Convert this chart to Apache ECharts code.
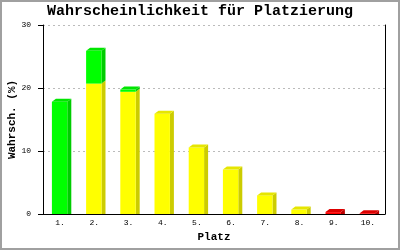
<!DOCTYPE html>
<html><head><meta charset="utf-8">
<script src="https://cdn.jsdelivr.net/npm/echarts@6/dist/echarts.min.js"></script>
<style>html,body{margin:0;padding:0;background:#fff}#c{width:400px;height:250px}</style>
</head><body><div id="c"></div>
<script>
const categories = ['1.', '2.', '3.', '4.', '5.', '6.', '7.', '8.', '9.', '10.'];
const yellowValues = [0, 20.7, 19.4, 15.9, 10.55, 7.05, 2.95, 0.7, 0, 0];
const greenValues = [17.8, 5.2, 0.35, 0, 0, 0, 0, 0, 0, 0];
const redValues = [0, 0, 0, 0, 0, 0, 0, 0, 0.3, 0.12];
const yTicks = [0, 10, 20, 30];

const segColors = [
  {front: '#ffff00', top: '#e6e600', side: '#cccc00'},
  {front: '#00ff00', top: '#00e600', side: '#00cc00'},
  {front: '#ff0000', top: '#dd0000', side: '#bb0000'}
];
const mono = "'Liberation Mono', 'DejaVu Sans Mono', monospace";
const data = categories.map((c, i) => [i, yellowValues[i], greenValues[i], redValues[i]]);

function renderItem(params, api) {
  const idx = api.value(0);
  const segs = [api.value(1), api.value(2), api.value(3)];
  const band = api.size([1, 0])[0];
  const w = band * 0.45;
  const dx = 4, dy = 3;
  const children = [];
  let base = 0;
  let topIdx = -1;
  segs.forEach((v, k) => { if (v > 0) topIdx = k; });
  segs.forEach((v, k) => {
    if (!(v > 0)) return;
    const pB = api.coord([idx, base]);
    const pT = api.coord([idx, base + v]);
    const x0 = pB[0] - w / 2 - 0.5, x1 = x0 + w;
    const yB = pB[1], yT = pT[1];
    const col = segColors[k];
    const isBottom = base === 0;
    children.push({type: 'polygon', shape: {points: [[x1, yT], [x1 + dx, yT - dy], [x1 + dx, isBottom ? yB : yB - dy], [x1, yB]]}, style: {fill: col.side}});
    children.push({type: 'rect', shape: {x: x0, y: yT, width: w, height: yB - yT}, style: {fill: col.front}});
    if (k === topIdx) {
      children.push({type: 'polygon', shape: {points: [[x0, yT], [x1, yT], [x1 + dx, yT - dy], [x0 + dx, yT - dy]]}, style: {fill: col.top}});
    }
    base += v;
  });
  return {type: 'group', children: children};
}

const chart = echarts.init(document.getElementById('c'), null, {renderer: 'canvas'});
chart.setOption({
  animation: false,
  backgroundColor: '#fff',
  title: {
    text: 'Wahrscheinlichkeit für Platzierung',
    left: 'center', top: 4, padding: 0,
    textStyle: {fontFamily: mono, fontWeight: 'bold', fontSize: 15, color: '#000'}
  },
  graphic: [{type: 'rect', shape: {x: 1, y: 1, width: 398, height: 248}, style: {fill: 'none', stroke: '#a0a0a0', lineWidth: 2}, z: 100}],
  grid: {left: 43, right: 15, top: 25, bottom: 36, containLabel: false, outerBoundsMode: 'none'},
  xAxis: {
    type: 'category', data: categories,
    name: 'Platz', nameLocation: 'middle', nameGap: 18, nameMoveOverlap: false,
    nameTextStyle: {fontFamily: mono, fontWeight: 'bold', fontSize: 11, color: '#000'},
    axisLine: {lineStyle: {color: '#000', width: 1}},
    axisTick: {show: false},
    axisLabel: {fontFamily: mono, fontSize: 8, color: '#000', margin: 5},
    splitLine: {show: false}
  },
  yAxis: [{
    type: 'value', min: 0, max: 30, interval: 10,
    name: 'Wahrsch. (%)', nameLocation: 'middle', nameGap: 25, nameMoveOverlap: false,
    nameTextStyle: {fontFamily: mono, fontWeight: 'bold', fontSize: 11, color: '#000'},
    axisLine: {show: true, lineStyle: {color: '#000', width: 1}},
    axisTick: {show: true, length: 5, lineStyle: {color: '#000'}},
    axisLabel: {fontFamily: mono, fontSize: 8, color: '#000', margin: 12,
      formatter: v => yTicks.indexOf(v) >= 0 ? String(v) : ''},
    splitLine: {show: true, lineStyle: {color: '#bbbbbb', type: [2, 3], width: 1}}
  }, {
    type: 'value', min: 0, max: 30, interval: 10, position: 'right',
    axisLine: {show: true, lineStyle: {color: '#000', width: 1}},
    axisTick: {show: false}, axisLabel: {show: false}, splitLine: {show: false}
  }],
  series: [{
    type: 'custom', renderItem: renderItem, data: data,
    encode: {x: 0, y: [1, 2, 3]}, xAxisIndex: 0, yAxisIndex: 0
  }]
});
</script></body></html>
